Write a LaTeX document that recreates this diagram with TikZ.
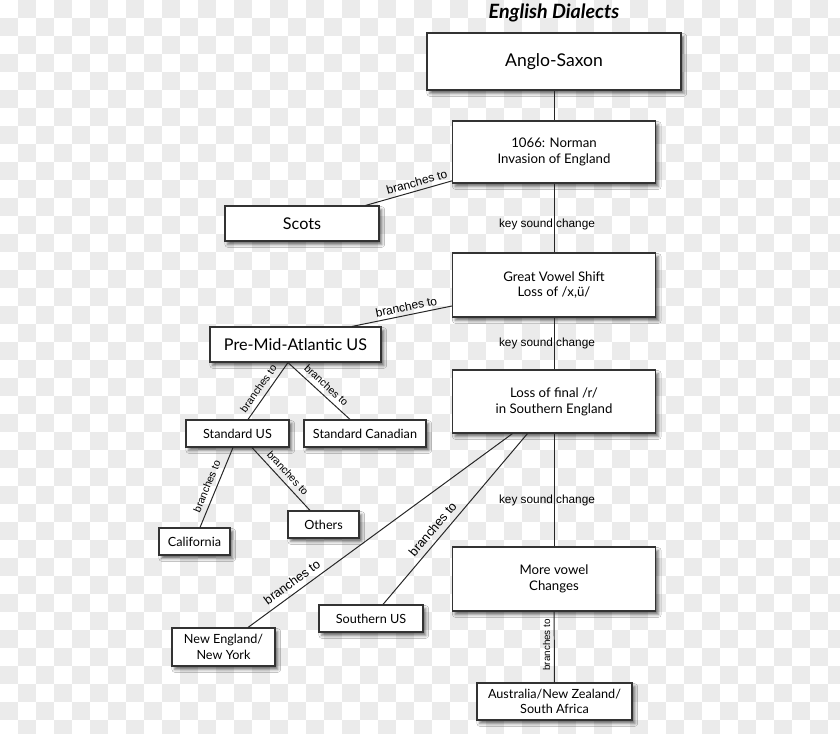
\documentclass[tikz,border=0pt]{standalone}
\usepackage{fontspec}
\setmainfont{Lato}
\newfontfamily\edgefont{Liberation Sans}
\usetikzlibrary{calc, shadows.blur}

\tikzset{
  dialect/.style={draw=black!80, line width=0.8pt, fill=white, align=center, inner sep=2pt,
    blur shadow={shadow xshift=2pt, shadow yshift=-2.5pt, shadow blur radius=2pt, shadow opacity=55}},
  bigtext/.style={font=\fontsize{12.5}{15}\selectfont},
  midtext/.style={font=\fontsize{11.5}{14}\selectfont},
  steptext/.style={font=\fontsize{9.4}{11.2}\selectfont},
  smalltext/.style={font=\fontsize{9}{11}\selectfont},
  link/.style={draw=black!85, line width=0.7pt},
  branch/.style={font=\edgefont\fontsize{8.5}{10}\selectfont, sloped, above, inner sep=2.5pt},
  keychange/.style={font=\edgefont\fontsize{8.4}{10}\selectfont, xshift=-0.175cm},
}

\begin{document}
\begin{tikzpicture}[x=0.025cm, y=-0.025cm]
    \useasboundingbox (0,0) rectangle (840,734);

    % checker background
    \begin{scope}
    \clip (0,0) rectangle (840,734);
    \fill[white] (0,0) rectangle (840,734);
    \foreach \i in {0,36,...,828}
      \foreach \j in {0,36,...,720} {
        \fill[black!8] (\i+18,\j) rectangle ++(18,18);
        \fill[black!8] (\i,\j+18) rectangle ++(18,18);
      }
    \end{scope}

    \node[font=\bfseries\itshape\fontsize{14}{16}\selectfont] (title) at (554,13) {English Dialects};

    % main line of change
    \node[dialect, bigtext, minimum width=6.35cm, minimum height=1.425cm] (anglo) at (554,61.5) {Anglo-Saxon};
    \node[dialect, steptext, minimum width=5.075cm, minimum height=1.55cm] (norman) at (554,152) {1066: Norman\\Invasion of England};
    \node[dialect, steptext, minimum width=5.075cm, minimum height=1.6cm] (gvs) at (554,285) {Great Vowel Shift\\Loss of /x,ü/};
    \node[dialect, steptext, minimum width=5.075cm, minimum height=1.575cm] (lossr) at (554,401.5) {Loss of final /r/\\in Southern England};
    \node[dialect, steptext, minimum width=5.075cm, minimum height=1.6cm] (morev) at (554,579) {More vowel\\Changes};
    \node[dialect, smalltext, minimum width=3.875cm, minimum height=0.925cm] (austr) at (554.5,701.5) {Australia/New Zealand/\\South Africa};

    % branches
    \node[dialect, midtext, minimum width=3.85cm, minimum height=0.875cm] (scots) at (302,223.5) {Scots};
    \node[dialect, midtext, minimum width=4.275cm, minimum height=0.875cm] (premid) at (295.5,344.5) {Pre-Mid-Atlantic US};
    \node[dialect, smalltext, minimum width=2.575cm, minimum height=0.675cm] (stdus) at (237.5,433.5) {Standard US};
    \node[dialect, smalltext, minimum width=3.05cm, minimum height=0.675cm] (stdcan) at (365,433.5) {Standard Canadian};
    \node[dialect, smalltext, minimum width=1.775cm, minimum height=0.675cm] (calif) at (194.5,541.5) {California};
    \node[dialect, smalltext, minimum width=1.775cm, minimum height=0.675cm] (others) at (323.5,524.5) {Others};
    \node[dialect, smalltext, minimum width=2.575cm, minimum height=0.95cm] (neweng) at (223.5,647) {New England/\\New York};
    \node[dialect, smalltext, minimum width=2.6cm, minimum height=0.675cm] (southus) at (371,618.5) {Southern US};

    % connectors
    \draw[link] (anglo) -- (norman);
    \draw[link] (norman) -- node[keychange, pos=0.59] {key sound change} (gvs);
    \draw[link] (gvs) -- node[keychange, pos=0.5] {key sound change} (lossr);
    \draw[link] (lossr) -- node[keychange, pos=0.59] {key sound change} (morev);
    \draw[link] (morev) -- node[pos=0.47, rotate=90, anchor=south, inner sep=2.5pt, font=\edgefont\fontsize{7}{8}\selectfont] {branches to} (austr);

    \draw[link] (scots) -- node[branch, pos=0.62] {branches to} (norman);
    \draw[link] ([xshift=1.4125cm]premid.north) -- node[branch, pos=0.56] {branches to} ([yshift=-0.525cm]gvs.west);

    \draw[link] ([xshift=0.2625cm]stdus.north) -- node[branch, pos=0.45, inner sep=3.5pt, font=\edgefont\fontsize{7.5}{9}\selectfont] {branches to} ([xshift=-0.1875cm]premid.south);
    \draw[link] ([xshift=-0.1875cm]premid.south) -- node[branch, pos=0.52, inner sep=3.5pt, font=\edgefont\fontsize{7.5}{9}\selectfont] {branches to} ([xshift=-0.375cm]stdcan.north);
    \draw[link] ([xshift=0.1375cm]calif.north) -- node[branch, pos=0.47, inner sep=3.5pt, font=\edgefont\fontsize{7.5}{9}\selectfont] {branches to} ([xshift=-0.1125cm]stdus.south);
    \draw[link] ([xshift=0.3625cm]stdus.south) -- node[branch, pos=0.5, inner sep=3.5pt, font=\edgefont\fontsize{7.5}{9}\selectfont] {branches to} ([xshift=-0.3375cm]others.north);

    \draw[link] ([xshift=0.6125cm]neweng.north) -- node[branch, pos=0.19, inner sep=4pt, font=\edgefont\fontsize{9}{10}\selectfont] {branches to} ([xshift=-1.0375cm]lossr.south);
    \draw[link] ([xshift=0.3cm]southus.north) -- node[branch, pos=0.4, inner sep=4pt, font=\edgefont\fontsize{9}{10}\selectfont] {branches to} ([xshift=-0.6625cm]lossr.south);
\end{tikzpicture}
\end{document}
